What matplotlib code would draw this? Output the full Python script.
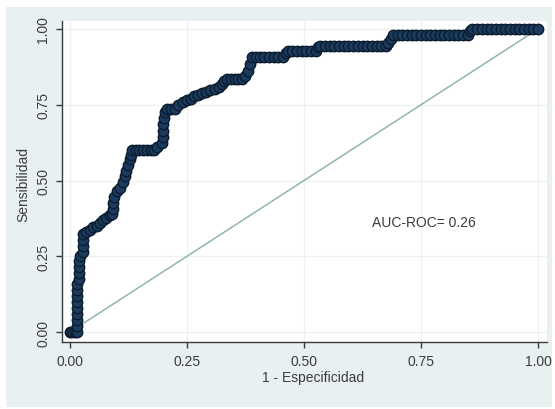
import matplotlib
matplotlib.use("Agg")
import matplotlib.pyplot as plt
from matplotlib.patches import Rectangle

plt.rcParams['font.family'] = ['Liberation Sans', 'DejaVu Sans']

# ROC points (1 - specificity, sensitivity) for each cutoff
fpr = [
    0.000, 0.005, 0.010, 0.014,
    0.014, 0.014, 0.014, 0.014, 0.014, 0.014, 0.014, 0.014,
    0.020, 0.020, 0.020, 0.020, 0.022,
    0.027, 0.027, 0.027, 0.028,
    0.035, 0.042, 0.050, 0.057, 0.064, 0.070, 0.077, 0.085, 0.090,
    0.092, 0.092, 0.095, 0.100, 0.107, 0.113, 0.118, 0.120, 0.124, 0.128, 0.130, 0.132,
    0.140, 0.148, 0.156, 0.164, 0.172, 0.180,
    0.186, 0.196, 0.198, 0.199, 0.199, 0.200, 0.202,
    0.208, 0.216, 0.224,
    0.231, 0.241, 0.250, 0.258, 0.266, 0.274, 0.282, 0.290, 0.300, 0.310, 0.318, 0.325, 0.330, 0.336,
    0.344, 0.352, 0.360, 0.368, 0.374, 0.380, 0.385, 0.389,
    0.397, 0.405, 0.415, 0.425, 0.435, 0.445, 0.455,
    0.462, 0.465,
    0.475, 0.485, 0.495, 0.505, 0.515, 0.525,
    0.530, 0.535,
    0.545, 0.555, 0.565, 0.575, 0.585, 0.595, 0.605, 0.615, 0.625, 0.635, 0.645, 0.655, 0.665, 0.675,
    0.680, 0.685, 0.690,
    0.700, 0.710, 0.720, 0.730, 0.740, 0.750, 0.760, 0.770, 0.780, 0.790, 0.800, 0.810, 0.820, 0.830, 0.840, 0.850,
    0.855, 0.860,
    0.870, 0.880, 0.890, 0.900, 0.910, 0.920, 0.930, 0.940, 0.950, 0.960, 0.970, 0.980, 0.990, 1.000,
]
tpr = [
    0.000, 0.000, 0.000, 0.000,
    0.020, 0.040, 0.060, 0.080, 0.100, 0.120, 0.140, 0.160,
    0.175, 0.195, 0.215, 0.235, 0.250,
    0.265, 0.285, 0.305, 0.325,
    0.330, 0.335, 0.345, 0.350, 0.360, 0.370, 0.375, 0.385, 0.390,
    0.405, 0.425, 0.445, 0.465, 0.475, 0.495, 0.515, 0.530, 0.550, 0.570, 0.585, 0.600,
    0.600, 0.600, 0.600, 0.600, 0.600, 0.600,
    0.612, 0.625, 0.645, 0.665, 0.685, 0.705, 0.725,
    0.735, 0.735, 0.735,
    0.748, 0.758, 0.765, 0.770, 0.778, 0.782, 0.788, 0.792, 0.798, 0.803, 0.810, 0.818, 0.828, 0.835,
    0.835, 0.835, 0.835, 0.835, 0.845, 0.862, 0.885, 0.907,
    0.907, 0.907, 0.907, 0.907, 0.907, 0.907, 0.907,
    0.920, 0.927,
    0.927, 0.927, 0.927, 0.927, 0.927, 0.927,
    0.940, 0.945,
    0.945, 0.945, 0.945, 0.945, 0.945, 0.945, 0.945, 0.945, 0.945, 0.945, 0.945, 0.945, 0.945, 0.945,
    0.955, 0.968, 0.980,
    0.980, 0.980, 0.980, 0.980, 0.980, 0.980, 0.980, 0.980, 0.980, 0.980, 0.980, 0.980, 0.980, 0.980, 0.980, 0.980,
    0.992, 1.000,
    1.000, 1.000, 1.000, 1.000, 1.000, 1.000, 1.000, 1.000, 1.000, 1.000, 1.000, 1.000, 1.000, 1.000,
]

ref_x = [0.0, 1.0]
ref_y = [0.0, 1.0]
ticks = [0.0, 0.25, 0.5, 0.75, 1.0]
tick_labels = ["0.00", "0.25", "0.50", "0.75", "1.00"]
auc_label = "AUC-ROC= 0.26"

W, H = 555, 410
fig = plt.figure(figsize=(W / 100, H / 100), dpi=100)
fig.patch.set_facecolor("white")

# light graph region behind the plot
fig.patches.append(Rectangle((6 / W, 2 / H), 546 / W, 400 / H,
                             transform=fig.transFigure, facecolor="#e9f0f2",
                             edgecolor="none", zorder=-5))

ax = fig.add_axes([62 / W, 1 - 343 / H, 485 / W, 321 / H])
ax.set_zorder(1)
ax.set_facecolor("white")
ax.set_xlim(-0.0171, 1.0192)
ax.set_ylim(-0.033, 1.0264)

ax.set_xticks(ticks)
ax.set_xticklabels(tick_labels)
ax.set_yticks(ticks)
ax.set_yticklabels(tick_labels, rotation=90, va="center")
ax.grid(True, color="#eef1f1", linewidth=0.9)
ax.set_axisbelow(True)

for s in ("top", "right"):
    ax.spines[s].set_visible(False)
for s in ("left", "bottom"):
    ax.spines[s].set_color("#3a3a3a")
    ax.spines[s].set_linewidth(1.0)
ax.tick_params(direction="out", length=4, width=1, color="#3a3a3a",
               labelsize=10, labelcolor="#3c3c3c", pad=4.5)

# chance diagonal
ax.plot(ref_x, ref_y, color="#92b6a6", linewidth=1.1, zorder=2)

# empirical ROC curve
ax.plot(fpr, tpr, color="#142f4d", linewidth=1.5, marker="o", markersize=7.5,
        markerfacecolor="#1a3b5e", markeredgecolor="#0c1c2e",
        markeredgewidth=1.0, zorder=3, clip_on=False)

ax.text(0.645, 0.363, auc_label, fontsize=10, color="#3c3c3c",
        ha="left", va="center")

fig.text(23 / W, 1 - 185 / H, "Sensibilidad", rotation=90, fontsize=10,
         color="#3c3c3c", ha="center", va="center")
fig.text(313 / W, 1 - 378 / H, "1 - Especificidad", fontsize=10,
         color="#3c3c3c", ha="center", va="center")

fig.savefig("out.png", dpi=100, facecolor=fig.get_facecolor())
